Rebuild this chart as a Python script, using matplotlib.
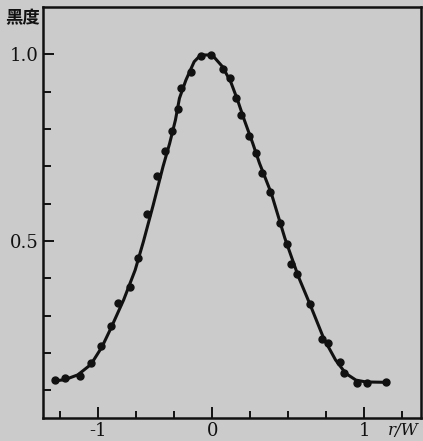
import numpy as np
import matplotlib.pyplot as plt
from matplotlib.ticker import FixedLocator, FixedFormatter

# 实测点 (r/W, 黑度)
pt_x = [-1.379, -1.287, -1.158, -1.058, -0.977, -0.885, -0.828, -0.718, -0.653,
        -0.575, -0.480, -0.416, -0.351, -0.302, -0.273, -0.187, -0.101, -0.009,
        0.071, 0.115, 0.155, 0.189, 0.245, 0.285, 0.329, 0.382, 0.445, 0.489,
        0.518, 0.558, 0.640, 0.720, 0.762, 0.838, 0.869, 0.955, 1.018, 1.145]
pt_y = [0.127, 0.133, 0.139, 0.172, 0.219, 0.273, 0.334, 0.376, 0.455,
        0.571, 0.675, 0.742, 0.795, 0.853, 0.909, 0.952, 0.996, 0.998,
        0.960, 0.935, 0.884, 0.837, 0.782, 0.736, 0.683, 0.630, 0.547, 0.491,
        0.438, 0.410, 0.331, 0.237, 0.227, 0.175, 0.147, 0.120, 0.118, 0.121]

# 理论曲线
cv_x = [-1.379, -1.293, -1.178, -1.063, -0.966, -0.891, -0.776, -0.675, -0.603,
        -0.517, -0.431, -0.373, -0.322, -0.287, -0.230, -0.158, -0.101, 0.0,
        0.067, 0.122, 0.167, 0.211, 0.267, 0.311, 0.389, 0.478, 0.567, 0.645,
        0.733, 0.811, 0.878, 0.945, 1.011, 1.145]
cv_y = [0.125, 0.128, 0.141, 0.169, 0.216, 0.264, 0.342, 0.422, 0.498,
        0.596, 0.699, 0.761, 0.824, 0.882, 0.931, 0.980, 0.998, 0.998,
        0.967, 0.926, 0.877, 0.824, 0.761, 0.708, 0.627, 0.507, 0.404, 0.328,
        0.239, 0.181, 0.145, 0.127, 0.122, 0.121]

x_major = [-1, 0, 1]
x_major_lab = ['-1', '0', '1']
x_minor = [-4 / 3, -2 / 3, -1 / 3, 0.25, 0.5, 0.75, 1.25]
y_major = [0.5, 1.0]
y_major_lab = ['0.5', '1.0']
y_minor = [0.1, 0.2, 0.3, 0.4, 0.6, 0.7, 0.8, 0.9]

bg = '#cbcbcb'
ink = '#111111'

# 原图横轴左右刻度间距不等：负侧3格一单位，正侧4格一单位
def fwd(x):
    x = np.asarray(x, dtype=float)
    return np.where(x < 0, 3 * x, 4 * x)

def inv(s):
    s = np.asarray(s, dtype=float)
    return np.where(s < 0, s / 3, s / 4)

plt.rcParams['font.family'] = ['DejaVu Serif', 'Noto Sans CJK SC']

fig = plt.figure(figsize=(4.23, 4.41), dpi=100, facecolor=bg)
ax = fig.add_axes([0.1017, 0.0522, 0.8936, 0.9319], facecolor=bg)
ax.set_xscale('function', functions=(fwd, inv))

ax.plot(cv_x, cv_y, color=ink, lw=2.2, solid_capstyle='round')
ax.plot(pt_x, pt_y, 'o', color=ink, ms=5)

ax.set_xlim(-1.483, 1.373)
ax.set_ylim(0.0255, 1.1265)

ax.xaxis.set_major_locator(FixedLocator(x_major))
ax.xaxis.set_major_formatter(FixedFormatter(x_major_lab))
ax.xaxis.set_minor_locator(FixedLocator(x_minor))
ax.yaxis.set_major_locator(FixedLocator(y_major))
ax.yaxis.set_major_formatter(FixedFormatter(y_major_lab))
ax.yaxis.set_minor_locator(FixedLocator(y_minor))

ax.tick_params(which='both', direction='in', color=ink, width=1.4)
ax.tick_params(axis='x', which='major', length=8, pad=3, labelsize=13, labelcolor=ink)
ax.tick_params(axis='x', which='minor', length=5)
ax.tick_params(axis='y', which='major', length=8, pad=3, labelsize=13, labelcolor=ink)
ax.tick_params(axis='y', which='minor', length=6)

for sp in ax.spines.values():
    sp.set_color(ink)
    sp.set_linewidth(1.8)

ax.text(-0.008, 0.972, '黑度', transform=ax.transAxes, ha='right', va='center',
        fontsize=12.5, color=ink, family=['Noto Sans CJK SC', 'DejaVu Sans'],
        fontweight='bold')
ax.text(0.993, -0.03, 'r/W', transform=ax.transAxes, ha='right', va='center',
        fontsize=12, color=ink, style='italic')

fig.savefig('out.png', dpi=100, facecolor=bg)
